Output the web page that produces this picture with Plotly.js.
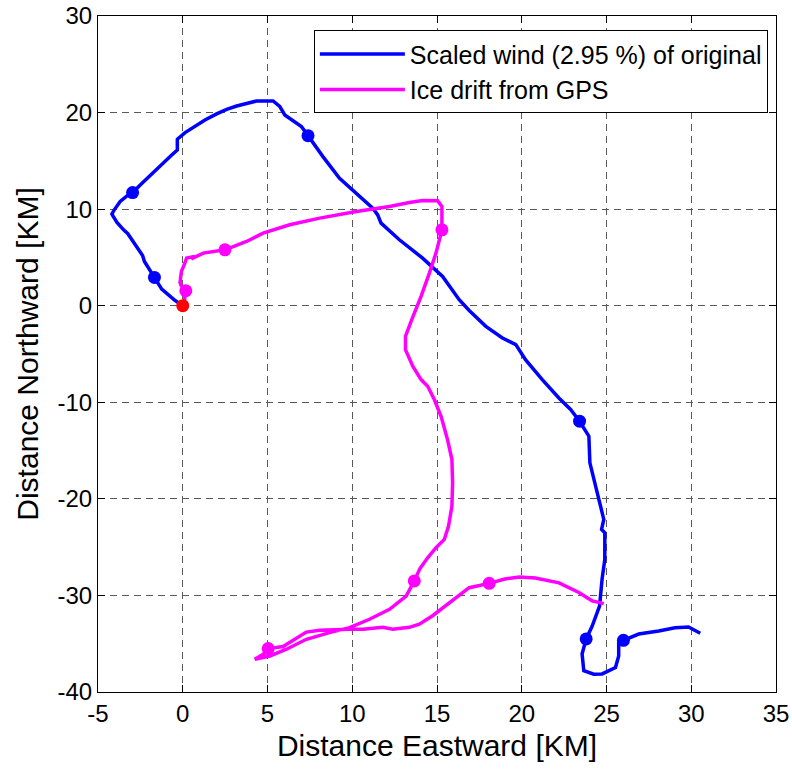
<!DOCTYPE html>
<html>
<head>
<meta charset="utf-8">
<script src="https://cdn.plot.ly/plotly-3.0.1.min.js"></script>
<style>body{margin:0;padding:0;background:#fff}#chart{width:792px;height:771px}</style>
</head>
<body>
<div id="chart"></div>
<script>
// Scaled wind track (km)
const windX = [0, -0.5, -1.24, -1.67, -1.93, -2.26, -2.37, -2.9, -3.24, -3.49, -3.88, -4.12, -4.18, -4.04, -3.69, -3.29, -2.96, -2.51, -1.96, -1.63, -1.24, -0.65, -0.32, -0.32, 0.14, 0.72, 1.31, 2.0, 2.59, 3.18, 3.76, 4.35, 5.33, 5.72, 6.02, 6.49, 7.0, 7.39, 8.27, 9.25, 10.22, 11.21, 11.5, 11.7, 12.78, 14.15, 15.33, 16.31, 16.9, 17.88, 18.86, 19.65, 20.22, 21.21, 22.19, 22.88, 23.41, 23.96, 24.02, 24.25, 24.55, 24.84, 24.71, 24.9, 24.9, 24.74, 24.59, 24.15, 23.8, 23.56, 23.66, 24.25, 24.74, 25.53, 25.72, 25.72, 26.0, 26.9, 28.08, 29.04, 29.84, 30.53];
const windY = [0, 0.6, 1.72, 2.93, 3.72, 4.58, 5.2, 6.48, 7.45, 7.86, 8.62, 9.31, 9.5, 9.93, 10.79, 11.37, 11.72, 12.51, 13.44, 14.06, 14.68, 15.6, 16.13, 17.24, 17.93, 18.61, 19.23, 19.86, 20.34, 20.68, 20.96, 21.2, 21.2, 20.65, 19.75, 19.17, 18.55, 17.61, 15.44, 13.2, 11.65, 10.1, 9.4, 8.55, 6.83, 4.93, 3.03, 0.62, -0.5, -2.14, -3.34, -4.03, -5.58, -7.65, -9.55, -10.75, -11.96, -13.51, -16.27, -17.99, -20.06, -22.13, -23.16, -23.5, -26.27, -28.3, -31.1, -33.2, -34.5, -36.06, -37.8, -38.16, -38.13, -37.47, -36.27, -34.88, -34.65, -34.0, -33.68, -33.34, -33.27, -33.92];

// Ice drift from GPS (km)
const iceX = [0, 0.1, 0.18, -0.1, -0.16, -0.08, 0.1, 0.23, 0.7, 0.5, 1.21, 2.49, 3.76, 4.74, 6.31, 8.08, 10.24, 12.2, 13.37, 14.15, 15.04, 15.29, 15.29, 14.94, 14.55, 14.06, 13.5, 13.14, 13.14, 13.57, 14.06, 14.45, 14.84, 15.24, 15.62, 15.88, 15.92, 15.88, 15.68, 15.43, 14.94, 14.45, 14.0, 13.66, 13.18, 12.2, 11.02, 9.84, 8.66, 7.29, 6.12, 5.14, 4.25, 4.74, 5.04, 5.92, 7.29, 8.07, 9.84, 10.63, 11.8, 12.39, 13.37, 13.96, 14.74, 15.72, 16.9, 18.08, 19.0, 19.86, 20.8, 22.2, 23.37, 24.15, 24.84];
const iceY = [0, 0.5, 1.55, 2.1, 2.4, 3.55, 4.3, 4.93, 5.1, 4.85, 5.45, 5.79, 6.65, 7.52, 8.38, 9.07, 9.75, 10.27, 10.68, 10.89, 10.86, 10.27, 7.86, 5.45, 3.38, 0.97, -1.5, -3.17, -4.55, -6.27, -7.65, -8.34, -9.72, -11.45, -13.86, -15.93, -18.34, -20.76, -22.82, -24.2, -25.06, -26.1, -27.2, -28.5, -30.06, -31.44, -32.47, -33.33, -33.85, -34.54, -35.57, -36.27, -36.61, -36.1, -35.5, -35.3, -33.8, -33.6, -33.5, -33.5, -33.3, -33.5, -33.3, -32.98, -32.1, -30.74, -29.2, -28.75, -28.3, -28.1, -28.2, -28.7, -29.7, -30.56, -30.85];

// Daily markers
const windDotX = [-1.67, -2.96, 7.39, 23.41, 23.8, 26.0];
const windDotY = [2.93, 11.72, 17.61, -11.96, -34.5, -34.65];
const iceDotX = [0.18, 2.49, 15.29, 13.66, 5.04, 18.08];
const iceDotY = [1.55, 5.79, 7.86, -28.5, -35.5, -28.75];
const startX = [0];
const startY = [0];

const xTicks = [-5, 0, 5, 10, 15, 20, 25, 30, 35];
const yTicks = [-40, -30, -20, -10, 0, 10, 20, 30];

const FONT = 'Liberation Sans, Arial, Helvetica, sans-serif';
const BLUE = '#0000ff';
const MAG = '#ff00ff';

const traces = [
  {x: windX, y: windY, type: 'scatter', mode: 'lines', name: 'Scaled wind (2.95 %) of original',
   line: {color: BLUE, width: 3.5}},
  {x: iceX, y: iceY, type: 'scatter', mode: 'lines', name: 'Ice drift from GPS',
   line: {color: MAG, width: 3.5}},
  {x: windDotX, y: windDotY, type: 'scatter', mode: 'markers', showlegend: false,
   marker: {color: BLUE, size: 13}},
  {x: iceDotX, y: iceDotY, type: 'scatter', mode: 'markers', showlegend: false,
   marker: {color: MAG, size: 13}},
  {x: startX, y: startY, type: 'scatter', mode: 'markers', showlegend: false,
   marker: {color: '#ff0000', size: 13}}
];

const axisCommon = {
  ticks: 'inside', ticklen: 7, tickcolor: '#000', tickwidth: 1,
  showline: true, linecolor: '#000', linewidth: 1, mirror: 'ticks',
  showgrid: true, gridcolor: '#5a5a5a', gridwidth: 1, griddash: '7px,5px',
  zeroline: false,
  tickfont: {family: FONT, size: 24, color: '#000'}
};

const layout = {
  width: 792, height: 771,
  margin: {l: 98, r: 16, t: 16, b: 79},
  paper_bgcolor: '#fff', plot_bgcolor: '#fff',
  showlegend: true,
  xaxis: Object.assign({}, axisCommon, {
    range: [-5, 35], tickvals: xTicks, ticktext: xTicks.map(String),
    title: {text: 'Distance Eastward [KM]', font: {family: FONT, size: 30, color: '#000'}, standoff: 9}
  }),
  yaxis: Object.assign({}, axisCommon, {
    range: [-40, 30], tickvals: yTicks, ticktext: yTicks.map(String),
    title: {text: 'Distance Northward [KM]', font: {family: FONT, size: 30, color: '#000'}, standoff: 10}
  }),
  legend: {
    x: 0.988, xanchor: 'right', y: 0.979, yanchor: 'top',
    bgcolor: '#fff', bordercolor: '#000', borderwidth: 1,
    font: {family: FONT, size: 25, color: '#000'},
    itemwidth: 85, tracegroupgap: 0
  }
};

Plotly.newPlot('chart', traces, layout, {staticPlot: true, displayModeBar: false});
</script>
</body>
</html>
